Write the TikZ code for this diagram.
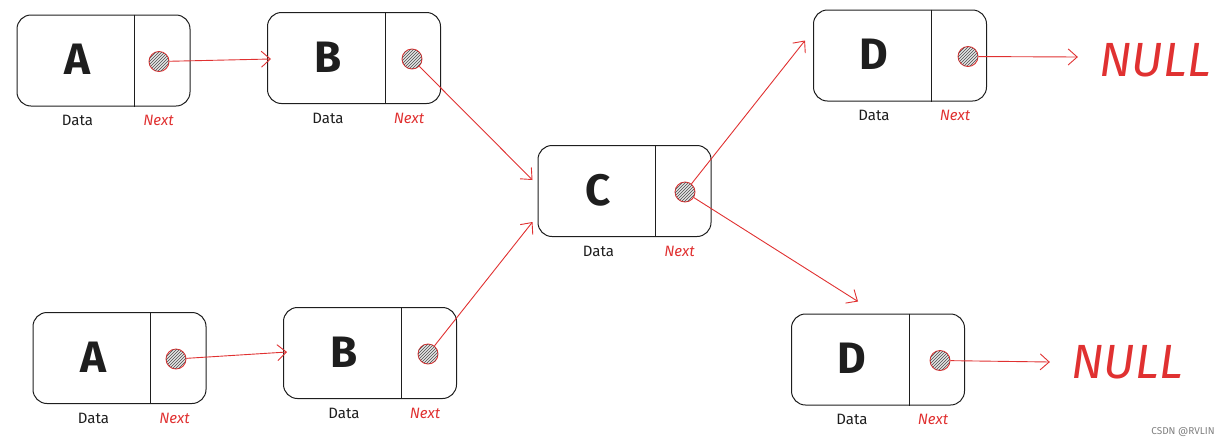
\documentclass[tikz,border=0pt]{standalone}
\usepackage{fontspec}
\setmainfont{Fira Sans}
\usetikzlibrary{arrows.meta,patterns,calc}
\definecolor{exred}{HTML}{E03131}
\definecolor{exink}{HTML}{1E1E1E}
\begin{document}
\begin{tikzpicture}[x=1pt,y=-1pt,
 box/.style={draw=exink, line width=1pt, rounded corners=14pt, minimum width=173pt, minimum height=91pt, inner sep=0pt},
 ptr/.style={circle, draw=exred, line width=0.9pt, fill=gray!20, postaction={pattern=north east lines, pattern color=gray!60!black}, minimum size=20pt, inner sep=0pt},
 letter/.style={font=\fontsize{44}{44}\selectfont\bfseries, text=exink},
 datalbl/.style={font=\fontsize{15}{15}\selectfont, text=exink},
 nextlbl/.style={font=\fontsize{15}{15}\selectfont\itshape, text=exred},
 link/.style={draw=exred, line width=0.9pt, -{Straight Barb[length=9pt,width=16pt]}},
 nulltxt/.style={font=\fontsize{48}{48}\selectfont\itshape, text=exred},
 divider/.style={draw=exink, line width=1pt}]
\useasboundingbox (0,0) rectangle (1220,445);
\foreach \n/\x/\y/\l/\cx in {A1/103.5/60.5/A/55.5, B1/354/58/B/58, C/624.5/191/C/60.5, D1/900/55.5/D/68, A2/119.5/358/A/56.5, B2/370/353/B/58, D2/878/359.5/D/62}{
  \node[box] (\n) at (\x,\y) {};
  \draw[divider] ($(\n.north)+(31,0)$) -- ($(\n.south)+(31,0)$);
  \node[letter] (\n-l) at ($(\n)+(-26,-1)$) {\l};
  \node[ptr] (\n-p) at ($(\n)+(\cx,1)$) {};
  \node[datalbl] (\n-d) at ($(\n.south)+(-26,14)$) {Data};
  \node[nextlbl] (\n-n) at ($(\n.south)+(55,14)$) {Next};
}
\node[nulltxt] (N1) at (1155,60) {NULL};
\node[nulltxt] (N2) at (1127,362) {NULL};
\draw[link] (A1-p) -- ($(B1.west)+(4,1)$);
\draw[link] (B1-p) -- ($(C.west)+(-5,-11)$);
\draw[link] (A2-p) -- ($(B2.west)+(4,-1)$);
\draw[link] (B2-p) -- ($(C.west)+(-5,31)$);
\draw[link] (C-p) -- ($(D1.west)+(-8,-15)$);
\draw[link] (C-p) -- ($(D2.north)+(-20,-12)$);
\draw[link] (D1-p) -- ($(N1.west)+(-18,-3)$);
\draw[link] (D2-p) -- ($(N2.west)+(-18,0)$);
\node[font=\fontsize{10}{10}\selectfont, text=gray] (wm) at (1183,432) {CSDN @RVLIN};
\end{tikzpicture}
\end{document}
